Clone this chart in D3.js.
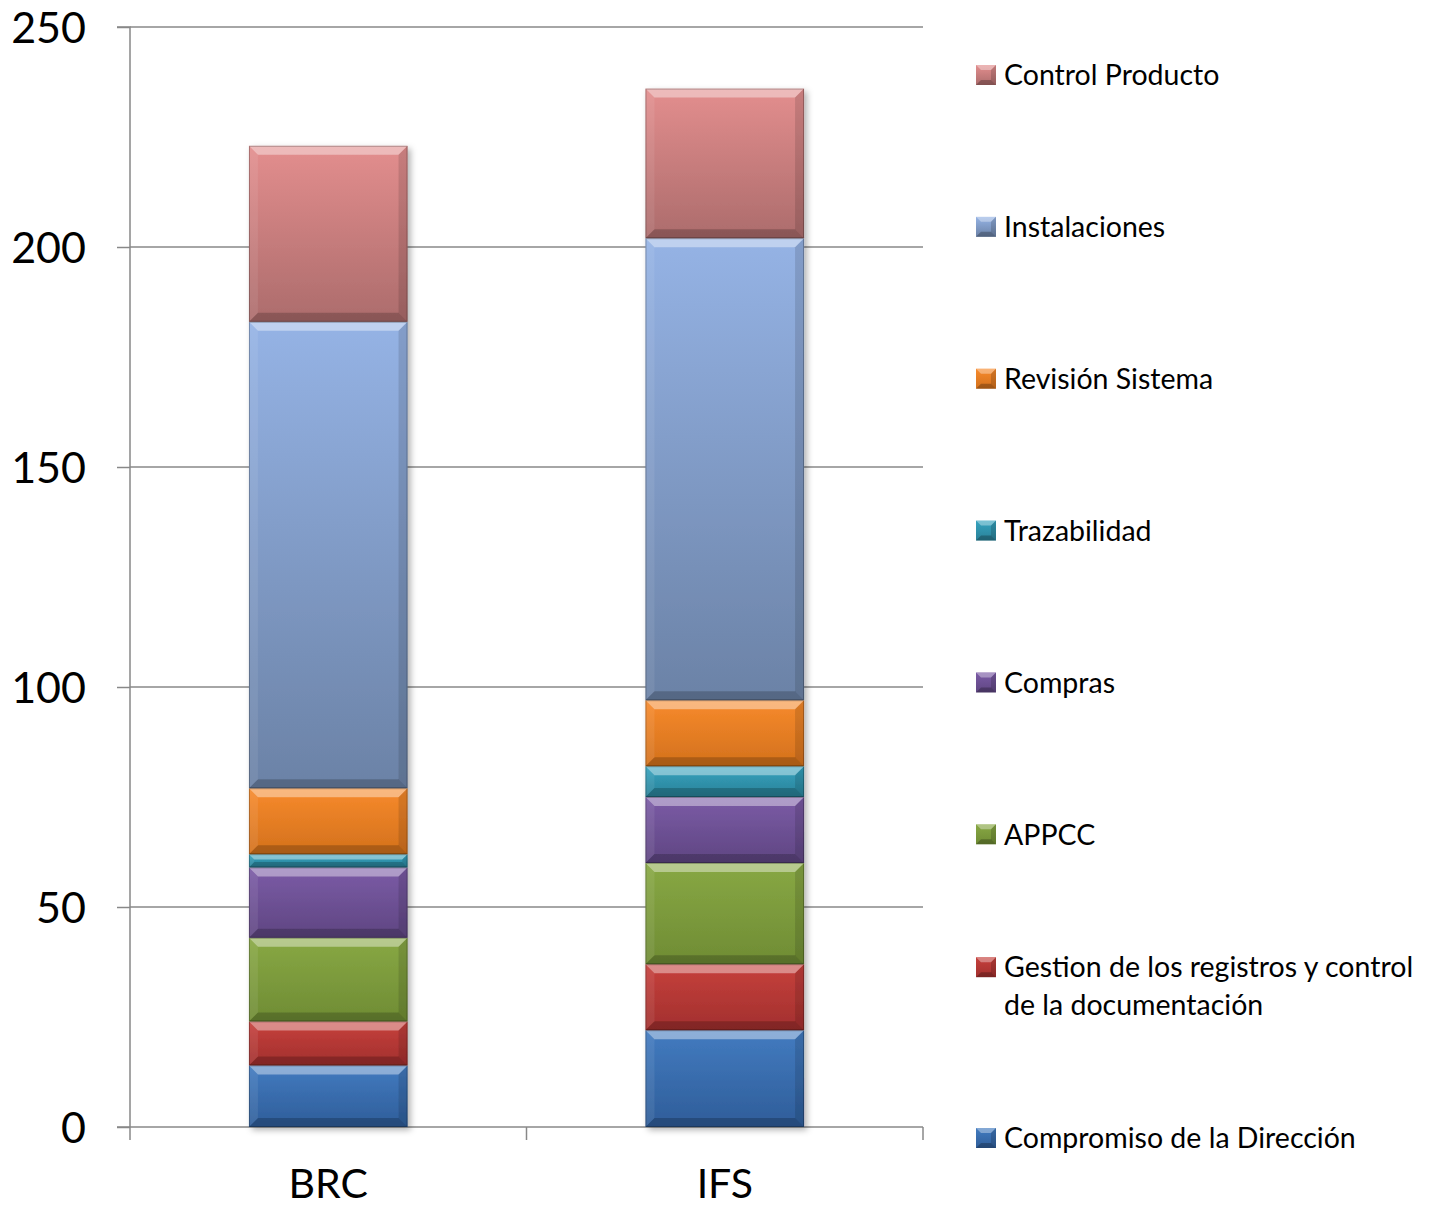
<!DOCTYPE html>
<html>
<head>
<meta charset="utf-8">
<script src="https://cdn.jsdelivr.net/npm/d3@7/dist/d3.min.js"></script>
<style>
  html, body { margin: 0; padding: 0; background: #fff; }
  svg { display: block; }
  text { font-family: Lato, "Open Sans", sans-serif; fill: #000; }
</style>
</head>
<body>
<svg id="chart" width="1437" height="1210"></svg>
<script>
// ---- data ----
const categories = ["BRC", "IFS"];
const seriesNames = [
  "Compromiso de la Dirección",
  "Gestion de los registros y control de la documentación",
  "APPCC",
  "Compras",
  "Trazabilidad",
  "Revisión Sistema",
  "Instalaciones",
  "Control Producto"
];
const brcValues = [14, 10, 19, 16, 3, 15, 106, 40];
const ifsValues = [22, 15, 23, 15, 7, 15, 105, 34];
const yTicks = [0, 50, 100, 150, 200, 250];
const legendLines = [
  ["Compromiso de la Dirección"],
  ["Gestion de los registros y control", "de la documentación"],
  ["APPCC"],
  ["Compras"],
  ["Trazabilidad"],
  ["Revisión Sistema"],
  ["Instalaciones"],
  ["Control Producto"]
];
// ---- styles ----
const colorTop = ["#427bc0", "#c6403c", "#88a844", "#7b5ba6", "#35a3bf", "#f78a2c", "#95b3e5", "#e38e8e"];
const colorBot = ["#2f5d99", "#a2302e", "#6f8c34", "#5f4682", "#2a8198", "#d3711c", "#6b82a6", "#ac6c6c"];

const svg = d3.select("#chart");
const defs = svg.append("defs");

const margin = { left: 130, right: 923, top: 27, bottom: 1127 };
const x = d3.scaleBand().domain(categories).range([margin.left, margin.right]).paddingInner(0.6).paddingOuter(0.3);
const y = d3.scaleLinear().domain([0, 250]).range([margin.bottom, margin.top]);

// gradients
seriesNames.forEach((s, i) => {
  const g = defs.append("linearGradient").attr("id", "g" + i)
    .attr("x1", 0).attr("y1", 0).attr("x2", 0).attr("y2", 1);
  g.append("stop").attr("offset", "0%").attr("stop-color", colorTop[i]);
  g.append("stop").attr("offset", "100%").attr("stop-color", colorBot[i]);
});
const f = defs.append("filter").attr("id", "shadow").attr("x", "-10%").attr("y", "-10%").attr("width", "130%").attr("height", "130%");
f.append("feDropShadow").attr("dx", 3).attr("dy", 3).attr("stdDeviation", 3).attr("flood-color", "#000").attr("flood-opacity", 0.3);

// gridlines
const grid = svg.append("g");
grid.selectAll("line").data(yTicks.filter(d => d > 0)).join("line")
  .attr("x1", margin.left).attr("x2", margin.right)
  .attr("y1", d => y(d)).attr("y2", d => y(d))
  .attr("stroke", "#888").attr("stroke-width", 1.5);

// y axis
const yAxis = svg.append("g").attr("transform", `translate(${margin.left},0)`)
  .call(d3.axisLeft(y).tickValues(yTicks).tickSize(13).tickPadding(31));
yAxis.select(".domain").attr("stroke", "#888").attr("stroke-width", 1.5).attr("d", `M-13,${y(250)}H0V${y(0)}`);
yAxis.selectAll(".tick line").attr("stroke", "#888").attr("stroke-width", 1.5);
yAxis.selectAll(".tick text").attr("font-size", 43).attr("font-family", "Lato").attr("fill", "#000").attr("dy", "0.36em");

// x axis
const xAxis = svg.append("g").attr("transform", `translate(0,${margin.bottom})`)
  .call(d3.axisBottom(x).tickSize(0).tickPadding(42));
xAxis.select(".domain").remove();
xAxis.append("line").attr("x1", margin.left - 13).attr("x2", margin.right).attr("y1", 0).attr("y2", 0)
  .attr("stroke", "#888").attr("stroke-width", 1.5);
const xt = [margin.left, (margin.left + margin.right) / 2, margin.right];
xAxis.selectAll(".xt").data(xt).join("line").attr("class", "xt")
  .attr("x1", d => d).attr("x2", d => d).attr("y1", 0).attr("y2", 13)
  .attr("stroke", "#888").attr("stroke-width", 1.5);
xAxis.selectAll(".tick text").attr("font-size", 41).attr("font-family", "Lato").attr("fill", "#000");

// stacked data
const table = categories.map((c, ci) => {
  const row = { cat: c };
  const vals = ci === 0 ? brcValues : ifsValues;
  seriesNames.forEach((s, i) => row[s] = vals[i]);
  return row;
});
const stacked = d3.stack().keys(seriesNames)(table);

function bevel(g, x0, x1, y0, y1, i) {
  const h = y1 - y0;
  const b = Math.min(9, h / 2.5);
  g.append("rect").attr("x", x0).attr("y", y0).attr("width", x1 - x0).attr("height", h)
    .attr("fill", `url(#g${i})`);
  g.append("path").attr("d", `M${x0},${y0}H${x1}L${x1 - b},${y0 + b}H${x0 + b}Z`)
    .attr("fill", "#fff").attr("opacity", 0.4);
  g.append("path").attr("d", `M${x0},${y1}H${x1}L${x1 - b},${y1 - b}H${x0 + b}Z`)
    .attr("fill", "#000").attr("opacity", 0.2);
  g.append("path").attr("d", `M${x0},${y0}L${x0 + b},${y0 + b}V${y1 - b}L${x0},${y1}Z`)
    .attr("fill", "#fff").attr("opacity", 0.08);
  g.append("path").attr("d", `M${x1},${y0}L${x1 - b},${y0 + b}V${y1 - b}L${x1},${y1}Z`)
    .attr("fill", "#000").attr("opacity", 0.12);
  g.append("rect").attr("x", x0 + 0.5).attr("y", y0 + 0.5).attr("width", x1 - x0 - 1).attr("height", h - 1)
    .attr("fill", "none").attr("stroke", "#000").attr("stroke-opacity", 0.25).attr("stroke-width", 1);
}

const bars = svg.append("g").attr("filter", "url(#shadow)");
stacked.forEach((layer, i) => {
  layer.forEach(d => {
    const cx = x(d.data.cat);
    const g = bars.append("g");
    bevel(g, cx, cx + x.bandwidth(), y(d[1]), y(d[0]), i);
  });
});

// legend
const legendY = d3.scalePoint().domain(d3.range(seriesNames.length)).range([1138, 75]);
const leg = svg.append("g");
seriesNames.forEach((s, i) => {
  const lines = legendLines[i];
  const cy = legendY(i) + (lines.length > 1 ? -19 : 0);
  const g = leg.append("g").attr("transform", `translate(976,${cy})`);
  const sq = g.append("g").attr("transform", "translate(0,-10)");
  const sz = 20, b = 5;
  sq.append("rect").attr("width", sz).attr("height", sz).attr("fill", `url(#g${i})`);
  sq.append("path").attr("d", `M0,0H${sz}L${sz - b},${b}H${b}Z`).attr("fill", "#fff").attr("opacity", 0.35);
  sq.append("path").attr("d", `M0,${sz}H${sz}L${sz - b},${sz - b}H${b}Z`).attr("fill", "#000").attr("opacity", 0.25);
  sq.append("path").attr("d", `M${sz},0L${sz - b},${b}V${sz - b}L${sz},${sz}Z`).attr("fill", "#000").attr("opacity", 0.15);
  lines.forEach((t, li) => {
    g.append("text").attr("x", 28).attr("y", li * 38).attr("dy", "0.36em")
      .attr("font-size", 28.5).text(t);
  });
});
</script>
</body>
</html>
